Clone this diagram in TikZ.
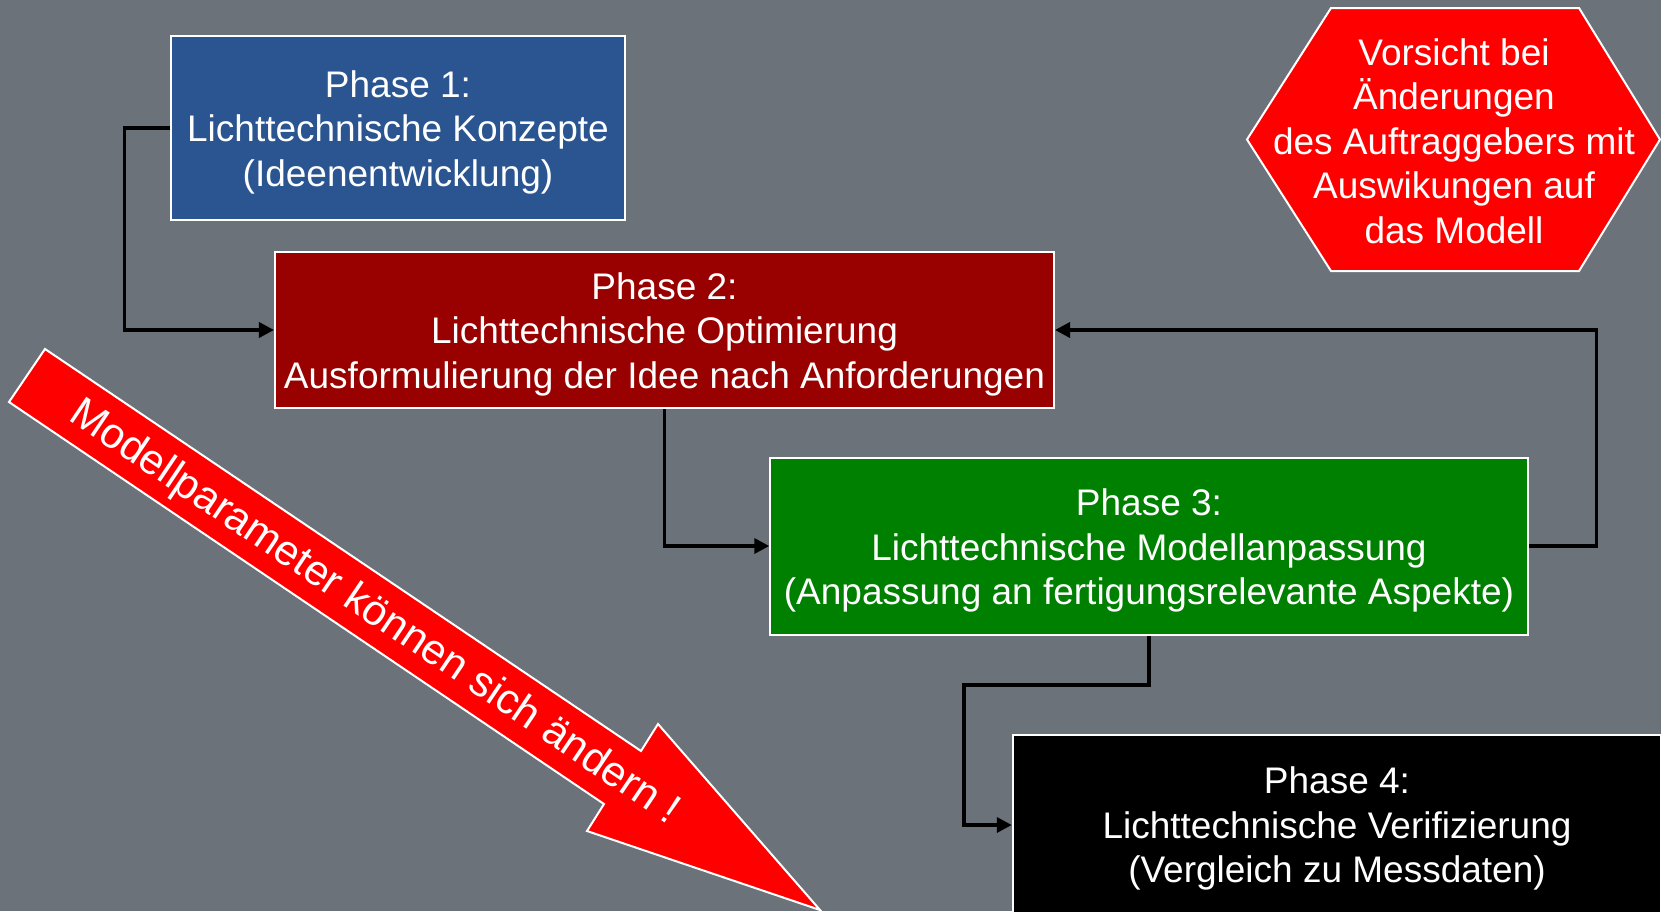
\documentclass[tikz,border=0pt]{standalone}
\usepackage{fontspec}
\setmainfont{Liberation Sans}
\usetikzlibrary{arrows.meta,calc}
\definecolor{bggray}{HTML}{6B727A}
\definecolor{p1blue}{HTML}{2A5590}
\definecolor{p2red}{HTML}{990000}
\definecolor{p3green}{HTML}{008000}
\begin{document}
\begin{tikzpicture}[x=1bp,y=-1bp,
  phasebox/.style={draw=white, line width=2bp, inner sep=0pt},
  boxtext/.style={text=white, align=center, inner sep=0pt,
    font=\fontsize{37bp}{44.5bp}\selectfont},
  conn/.style={draw=black, line width=3.5bp},
  arr/.style={-{Triangle[length=15bp,width=15bp]}},
  warnshape/.style={fill=red, draw=white, line width=2bp, line join=miter},
  warntext/.style={text=white, align=center, inner sep=0pt, font=\fontsize{37bp}{44.5bp}\selectfont}
]
\useasboundingbox (0,0) rectangle (1661,911);
\fill[bggray] (0,0) rectangle (1661,911);
\clip (0,0) rectangle (1661,911);

% big diagonal arrow
\path[warnshape] (45,349) -- (641,751) -- (658,724) -- (820,910) -- (587,831) -- (604,804) -- (9,402) -- cycle;
\node[warntext, rotate=-34, font=\fontsize{42.5bp}{50bp}\selectfont] (change) at (374,613) {Modellparameter können sich ändern !};

% hexagon
\path[warnshape] (1247,139.5) -- (1331,8) -- (1579,8) -- (1660,139.5) -- (1579,271) -- (1331,271) -- cycle;
\node[warntext] (warn) at (1454,141) {Vorsicht bei\\Änderungen\\des Auftraggebers mit\\Auswikungen auf\\das Modell};

% phase boxes
\node[phasebox, fill=p1blue, minimum width=453bp, minimum height=184bp] (b1) at (398,128) {};
\node[boxtext] (t1) at ($(b1.center)+(0,4)$) {Phase 1:\\Lichttechnische Konzepte\\(Ideenentwicklung)};
\node[phasebox, fill=p2red, minimum width=779bp, minimum height=156bp] (b2) at (664.5,330) {};
\node[boxtext] (t2) at ($(b2.center)+(0,4)$) {Phase 2:\\Lichttechnische Optimierung\\Ausformulierung der Idee nach Anforderungen};
\node[phasebox, fill=p3green, minimum width=757.5bp, minimum height=177bp] (b3) at (1149,546) {};
\node[boxtext] (t3) at ($(b3.center)+(0,4.5)$) {Phase 3:\\Lichttechnische Modellanpassung\\(Anpassung an fertigungsrelevante Aspekte)};
\node[phasebox, fill=black, minimum width=648.5bp, minimum height=180bp] (b4) at (1337,825) {};
\node[boxtext] (t4) at ($(b4.center)+(0,3.5)$) {Phase 4:\\Lichttechnische Verifizierung\\(Vergleich zu Messdaten)};

% connectors
\coordinate (c1) at (124.5,128);
\draw[conn, arr] (b1.west) -- (c1) |- (b2.west);
\draw[conn, arr] (b2.south) |- (b3.west);
\coordinate (c3) at (1596.5,546);
\draw[conn, arr] (b3.east) -- (c3) |- (b2.east);
\coordinate (c4a) at (1149,685);
\coordinate (c4b) at (964,685);
\draw[conn, arr] (b3.south) -- (c4a) -- (c4b) |- (b4.west);
\end{tikzpicture}
\end{document}
